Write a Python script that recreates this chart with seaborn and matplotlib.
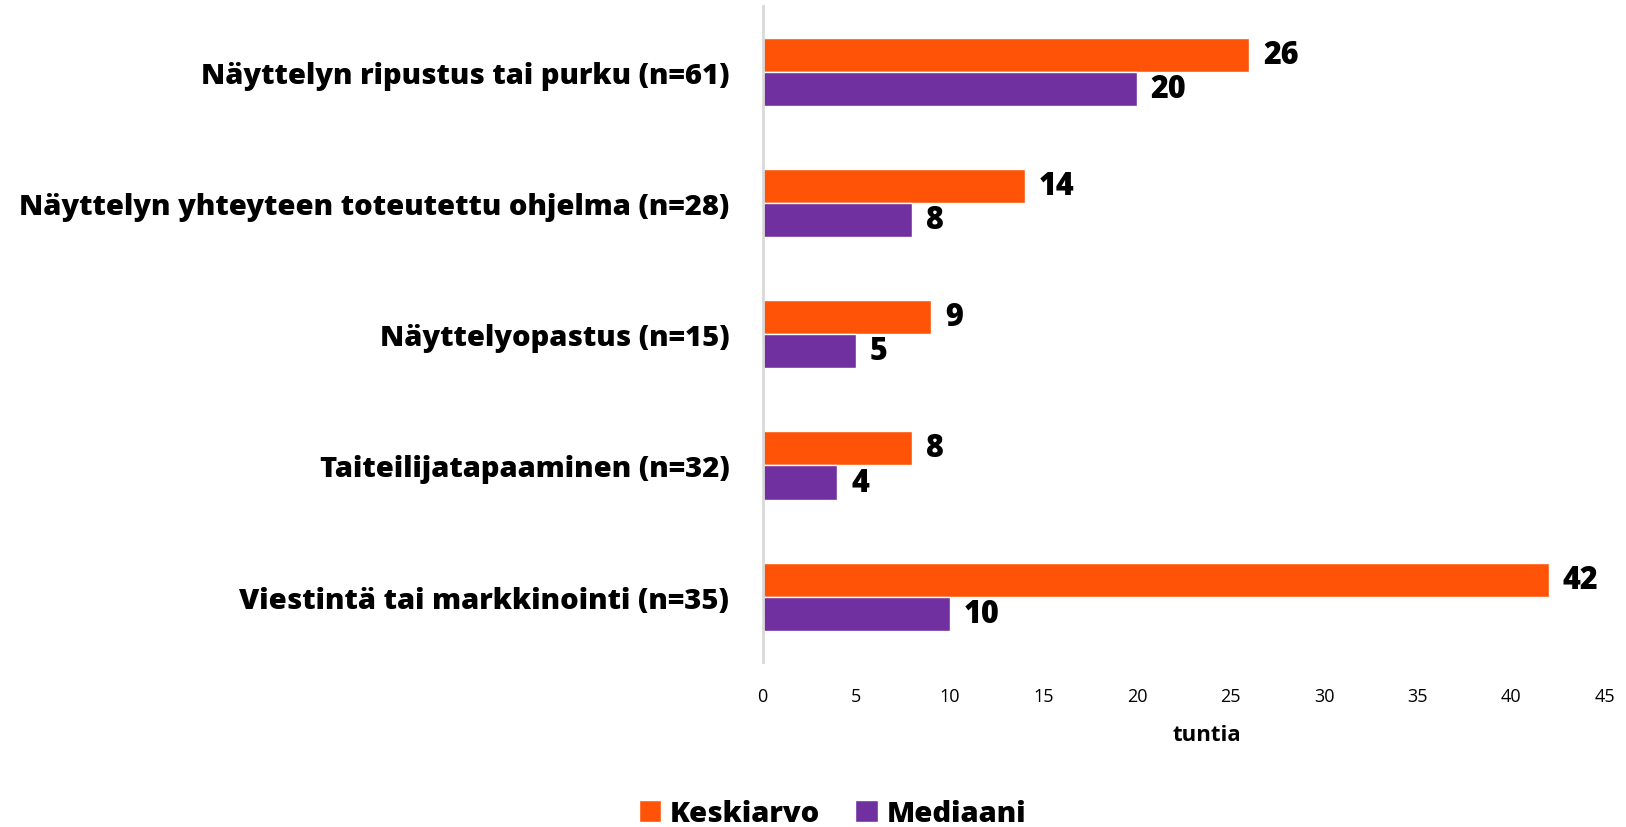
import pandas as pd
import matplotlib
matplotlib.use("Agg")
import matplotlib.pyplot as plt
import seaborn as sns

categories = ["Näyttelyn ripustus tai purku (n=61)",
              "Näyttelyn yhteyteen toteutettu ohjelma (n=28)",
              "Näyttelyopastus (n=15)",
              "Taiteilijatapaaminen (n=32)",
              "Viestintä tai markkinointi (n=35)"]
keskiarvo = [26, 14, 9, 8, 42]
mediaani = [20, 8, 5, 4, 10]
series = ["Keskiarvo", "Mediaani"]
colors = ["#FF5308", "#7030A0"]
x_ticks = [0, 5, 10, 15, 20, 25, 30, 35, 40, 45]

df = pd.DataFrame({
    "kategoria": categories * 2,
    "tunnit": keskiarvo + mediaani,
    "sarja": [series[0]] * len(categories) + [series[1]] * len(categories),
})

sns.set_style("white")
plt.rcParams["font.family"] = ["Open Sans", "DejaVu Sans"]
plt.rcParams["text.color"] = "black"

fig = plt.figure(figsize=(16.26, 8.28), dpi=100)
ax = fig.add_axes([0.469, 0.199, 0.518, 0.792])
sns.barplot(data=df, y="kategoria", x="tunnit", hue="sarja", order=categories,
            hue_order=series, palette=colors, width=0.52, orient="h", ax=ax,
            saturation=1, errorbar=None)

for cont in ax.containers:
    ax.bar_label(cont, padding=10, fontsize=22, fontweight=800, color="black")

ax.set_xlim(0, 45)
ax.set_xticks(x_ticks)
ax.tick_params(axis="x", length=0, labelsize=13, pad=18, labelcolor="black")
ax.tick_params(axis="y", length=0, labelsize=21, pad=24, labelcolor="black")
for lab in ax.get_yticklabels():
    lab.set_fontweight(800)
ax.set_ylabel("")
ax.set_xlabel("tuntia", fontsize=16, fontweight="bold", color="black")
ax.xaxis.set_label_coords(0.528, -0.094)
for s in ["top", "right", "bottom"]:
    ax.spines[s].set_visible(False)
ax.spines["left"].set_color("#D9D9D9")
ax.spines["left"].set_linewidth(2)

handles, labels = ax.get_legend_handles_labels()
ax.get_legend().remove()
fig.legend(handles, labels, loc="center", bbox_to_anchor=(0.512, 0.016), ncol=2,
           frameon=False, prop={"size": 21, "weight": 800}, handlelength=0.78,
           handleheight=0.78, columnspacing=1.2, handletextpad=0.3)

fig.savefig("out.png", dpi=100)
